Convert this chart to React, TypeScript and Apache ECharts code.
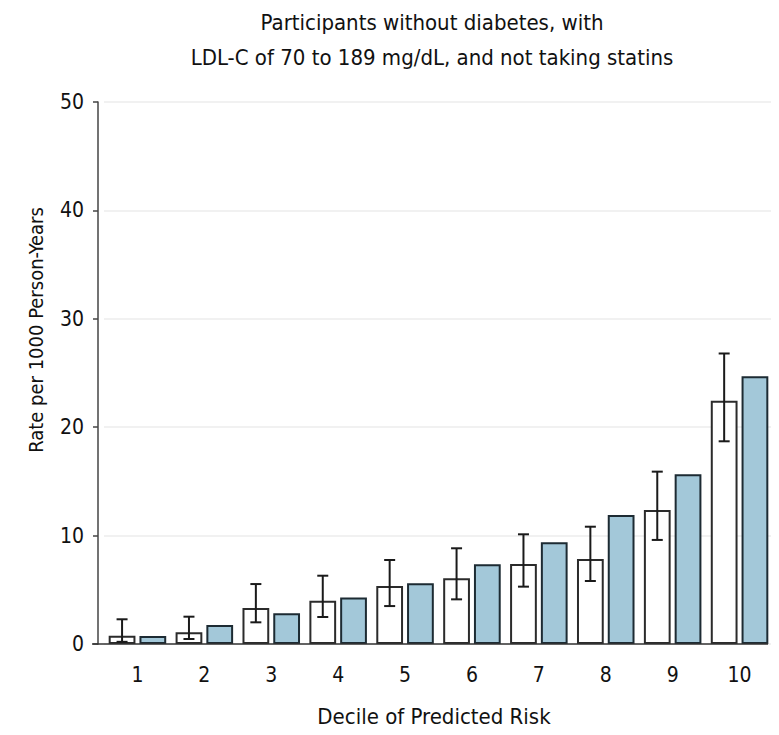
import React, { useEffect, useRef } from "react";
import * as echarts from "echarts";

const deciles = ["1", "2", "3", "4", "5", "6", "7", "8", "9", "10"];
const observedRate = [0.77, 1.08, 3.32, 4.0, 5.35, 6.06, 7.38, 7.84, 12.36, 22.45];
const observedLow = [0.2, 0.46, 2.0, 2.49, 3.5, 4.12, 5.29, 5.81, 9.6, 18.7];
const observedHigh = [2.28, 2.52, 5.53, 6.3, 7.75, 8.83, 10.12, 10.82, 15.9, 26.8];
const predictedRate = [0.74, 1.75, 2.83, 4.3, 5.6, 7.35, 9.38, 11.9, 15.65, 24.7];
const yTicks = { min: 0, max: 50, interval: 10 };

const FONT = "'DejaVu Sans Condensed', 'Liberation Sans Narrow', 'Liberation Sans', sans-serif";
const INK = "#2b2b2b";

export default function App() {
  const ref = useRef<HTMLDivElement>(null);
  useEffect(() => {
    if (!ref.current) return;
    const chart = echarts.init(ref.current, null, { renderer: "svg" });
    const barWidthFrac = 0.4;
    const gapFrac = 0.06;
    const errData = deciles.map((_, i) => [i, observedLow[i], observedHigh[i]]);
    chart.setOption({
      animation: false,
      backgroundColor: "#ffffff",
      title: {
        text: "Participants without diabetes, with\nLDL-C of 70 to 189 mg/dL, and not taking statins",
        left: 427,
        top: 0,
        textAlign: "center",
        textStyle: {
          fontFamily: FONT,
          fontSize: 22,
          fontWeight: "normal",
          color: "#111",
          lineHeight: 35,
        },
      },
      grid: { left: 104, top: 102, width: 669, height: 542, containLabel: false },
      xAxis: {
        type: "category",
        data: deciles,
        axisLine: { show: false },
        axisTick: { show: false },
        axisLabel: { margin: 20, fontFamily: FONT, fontSize: 21, color: "#111" },
      },
      yAxis: {
        type: "value",
        min: yTicks.min,
        max: yTicks.max,
        interval: yTicks.interval,
        offset: 6,
        axisLine: { show: true, lineStyle: { color: "#444", width: 1.5 } },
        axisTick: { show: true, length: 5, lineStyle: { color: "#444", width: 1.5 } },
        axisLabel: { margin: 14, fontFamily: FONT, fontSize: 21, color: "#111" },
        splitLine: { show: true, lineStyle: { color: "#ececec", width: 1.5 } },
      },
      graphic: [
        {
          type: "line",
          shape: { x1: 92, y1: 644, x2: 768, y2: 644 },
          style: { stroke: "#333", lineWidth: 1.5 },
          z: 10,
        },
        {
          type: "text",
          x: 36,
          y: 330,
          rotation: Math.PI / 2,
          style: {
            text: "Rate per 1000 Person-Years",
            fontFamily: FONT,
            fontSize: 20,
            fill: "#111",
            textAlign: "center",
            textVerticalAlign: "middle",
          },
        },
        {
          type: "text",
          x: 434,
          y: 716,
          style: {
            text: "Decile of Predicted Risk",
            fontFamily: FONT,
            fontSize: 22,
            fill: "#111",
            textAlign: "center",
            textVerticalAlign: "middle",
          },
        },
      ],
      series: [
        {
          name: "Observed",
          type: "bar",
          data: observedRate,
          barWidth: "40%",
          barGap: "15%",
          itemStyle: { color: "#ffffff", borderColor: INK, borderWidth: 2 },
        },
        {
          name: "Predicted",
          type: "bar",
          data: predictedRate,
          barWidth: "40%",
          itemStyle: { color: "#a3c8d9", borderColor: "#1d2b33", borderWidth: 2 },
        },
        {
          name: "Observed 95% CI",
          type: "custom",
          data: errData,
          z: 5,
          renderItem: (params: any, api: any) => {
            const idx = api.value(0);
            const lo = api.coord([idx, api.value(1)]);
            const hi = api.coord([idx, api.value(2)]);
            const band = api.size([1, 0])[0];
            const x = lo[0] - band * (barWidthFrac + gapFrac) / 2;
            const cap = 5.5;
            const style = { stroke: "#1a1a1a", lineWidth: 2 };
            return {
              type: "group",
              children: [
                { type: "line", shape: { x1: x, y1: lo[1], x2: x, y2: hi[1] }, style },
                { type: "line", shape: { x1: x - cap, y1: hi[1], x2: x + cap, y2: hi[1] }, style },
                { type: "line", shape: { x1: x - cap, y1: lo[1], x2: x + cap, y2: lo[1] }, style },
              ],
            };
          },
        },
      ],
    });
    return () => chart.dispose();
  }, []);
  return <div ref={ref} style={{ width: 779, height: 735, margin: -8 }} />;
}
